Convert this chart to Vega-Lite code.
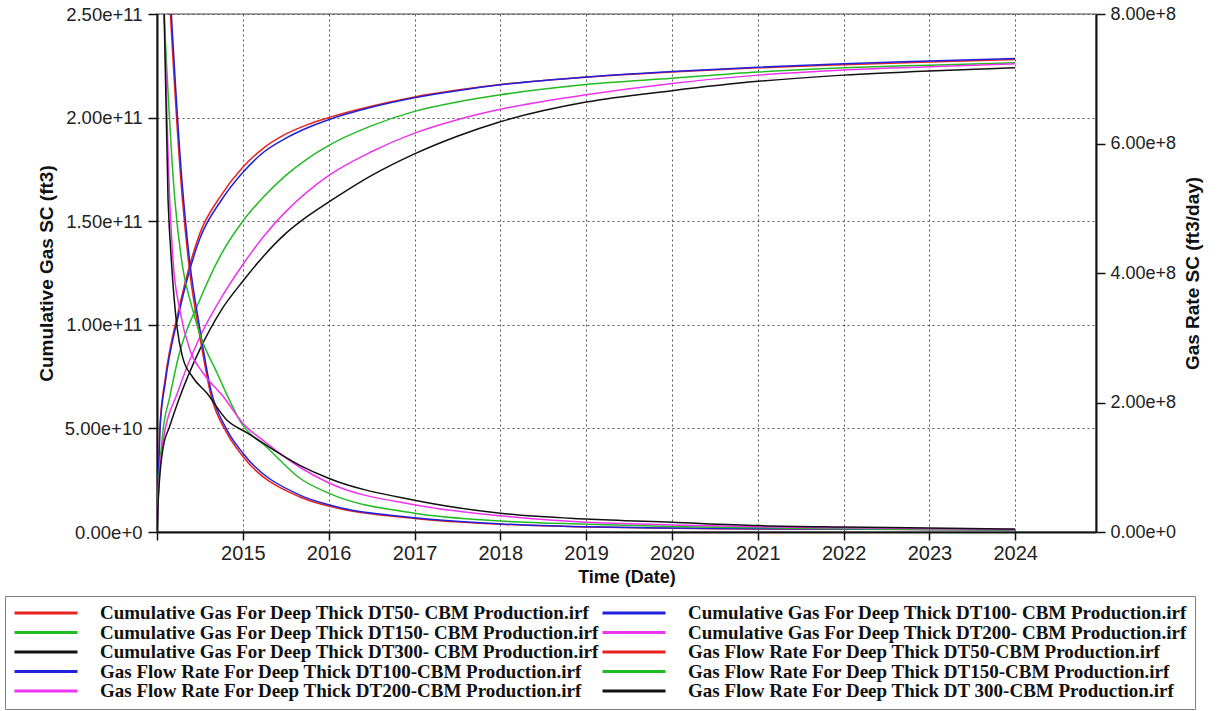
{
  "$schema": "https://vega.github.io/schema/vega-lite/v6.json",
  "width": 939,
  "height": 518,
  "autosize": {"type": "none"},
  "padding": {"left": 157, "top": 14, "right": 127, "bottom": 179},
  "background": "white",
  "config": {
    "view": {"stroke": "#888888", "strokeWidth": 1.5},
    "font": "Liberation Sans",
    "axis": {"labelFont": "Liberation Sans", "titleFont": "Liberation Sans", "labelColor": "#222", "titleColor": "#111", "domainColor": "#111", "domainWidth": 2, "tickColor": "#111", "tickWidth": 1.5}
  },
  "datasets": {
    "cum": [
      {"series": "Cumulative Gas For Deep Thick DT50- CBM Production.irf", "date": "2014-01-01", "value": 0},
      {"series": "Cumulative Gas For Deep Thick DT50- CBM Production.irf", "date": "2014-01-05", "value": 1.8e10},
      {"series": "Cumulative Gas For Deep Thick DT50- CBM Production.irf", "date": "2014-01-14", "value": 5.2e10},
      {"series": "Cumulative Gas For Deep Thick DT50- CBM Production.irf", "date": "2014-02-05", "value": 7.4e10},
      {"series": "Cumulative Gas For Deep Thick DT50- CBM Production.irf", "date": "2014-04-01", "value": 1.06e11},
      {"series": "Cumulative Gas For Deep Thick DT50- CBM Production.irf", "date": "2014-07-02", "value": 1.44e11},
      {"series": "Cumulative Gas For Deep Thick DT50- CBM Production.irf", "date": "2014-10-01", "value": 1.625e11},
      {"series": "Cumulative Gas For Deep Thick DT50- CBM Production.irf", "date": "2015-01-01", "value": 1.76e11},
      {"series": "Cumulative Gas For Deep Thick DT50- CBM Production.irf", "date": "2015-04-02", "value": 1.855e11},
      {"series": "Cumulative Gas For Deep Thick DT50- CBM Production.irf", "date": "2015-07-02", "value": 1.92e11},
      {"series": "Cumulative Gas For Deep Thick DT50- CBM Production.irf", "date": "2015-10-01", "value": 1.965e11},
      {"series": "Cumulative Gas For Deep Thick DT50- CBM Production.irf", "date": "2016-01-01", "value": 2.0e11},
      {"series": "Cumulative Gas For Deep Thick DT50- CBM Production.irf", "date": "2016-07-01", "value": 2.055e11},
      {"series": "Cumulative Gas For Deep Thick DT50- CBM Production.irf", "date": "2017-01-01", "value": 2.1e11},
      {"series": "Cumulative Gas For Deep Thick DT50- CBM Production.irf", "date": "2017-07-02", "value": 2.133e11},
      {"series": "Cumulative Gas For Deep Thick DT50- CBM Production.irf", "date": "2018-01-01", "value": 2.16e11},
      {"series": "Cumulative Gas For Deep Thick DT50- CBM Production.irf", "date": "2019-01-01", "value": 2.195e11},
      {"series": "Cumulative Gas For Deep Thick DT50- CBM Production.irf", "date": "2020-01-01", "value": 2.22e11},
      {"series": "Cumulative Gas For Deep Thick DT50- CBM Production.irf", "date": "2021-01-01", "value": 2.24e11},
      {"series": "Cumulative Gas For Deep Thick DT50- CBM Production.irf", "date": "2022-01-01", "value": 2.255e11},
      {"series": "Cumulative Gas For Deep Thick DT50- CBM Production.irf", "date": "2023-01-01", "value": 2.268e11},
      {"series": "Cumulative Gas For Deep Thick DT50- CBM Production.irf", "date": "2024-01-01", "value": 2.28e11},

      {"series": "Cumulative Gas For Deep Thick DT100- CBM Production.irf", "date": "2014-01-01", "value": 0},
      {"series": "Cumulative Gas For Deep Thick DT100- CBM Production.irf", "date": "2014-01-05", "value": 1.7e10},
      {"series": "Cumulative Gas For Deep Thick DT100- CBM Production.irf", "date": "2014-01-14", "value": 5.0e10},
      {"series": "Cumulative Gas For Deep Thick DT100- CBM Production.irf", "date": "2014-02-05", "value": 7.2e10},
      {"series": "Cumulative Gas For Deep Thick DT100- CBM Production.irf", "date": "2014-04-01", "value": 1.04e11},
      {"series": "Cumulative Gas For Deep Thick DT100- CBM Production.irf", "date": "2014-07-02", "value": 1.415e11},
      {"series": "Cumulative Gas For Deep Thick DT100- CBM Production.irf", "date": "2014-10-01", "value": 1.6e11},
      {"series": "Cumulative Gas For Deep Thick DT100- CBM Production.irf", "date": "2015-01-01", "value": 1.735e11},
      {"series": "Cumulative Gas For Deep Thick DT100- CBM Production.irf", "date": "2015-04-02", "value": 1.835e11},
      {"series": "Cumulative Gas For Deep Thick DT100- CBM Production.irf", "date": "2015-07-02", "value": 1.9e11},
      {"series": "Cumulative Gas For Deep Thick DT100- CBM Production.irf", "date": "2015-10-01", "value": 1.95e11},
      {"series": "Cumulative Gas For Deep Thick DT100- CBM Production.irf", "date": "2016-01-01", "value": 1.99e11},
      {"series": "Cumulative Gas For Deep Thick DT100- CBM Production.irf", "date": "2016-07-01", "value": 2.05e11},
      {"series": "Cumulative Gas For Deep Thick DT100- CBM Production.irf", "date": "2017-01-01", "value": 2.096e11},
      {"series": "Cumulative Gas For Deep Thick DT100- CBM Production.irf", "date": "2017-07-02", "value": 2.13e11},
      {"series": "Cumulative Gas For Deep Thick DT100- CBM Production.irf", "date": "2018-01-01", "value": 2.158e11},
      {"series": "Cumulative Gas For Deep Thick DT100- CBM Production.irf", "date": "2019-01-01", "value": 2.196e11},
      {"series": "Cumulative Gas For Deep Thick DT100- CBM Production.irf", "date": "2020-01-01", "value": 2.222e11},
      {"series": "Cumulative Gas For Deep Thick DT100- CBM Production.irf", "date": "2021-01-01", "value": 2.243e11},
      {"series": "Cumulative Gas For Deep Thick DT100- CBM Production.irf", "date": "2022-01-01", "value": 2.26e11},
      {"series": "Cumulative Gas For Deep Thick DT100- CBM Production.irf", "date": "2023-01-01", "value": 2.273e11},
      {"series": "Cumulative Gas For Deep Thick DT100- CBM Production.irf", "date": "2024-01-01", "value": 2.285e11},

      {"series": "Cumulative Gas For Deep Thick DT150- CBM Production.irf", "date": "2014-01-01", "value": 0},
      {"series": "Cumulative Gas For Deep Thick DT150- CBM Production.irf", "date": "2014-01-05", "value": 1.5e10},
      {"series": "Cumulative Gas For Deep Thick DT150- CBM Production.irf", "date": "2014-01-26", "value": 4.8e10},
      {"series": "Cumulative Gas For Deep Thick DT150- CBM Production.irf", "date": "2014-02-24", "value": 6.5e10},
      {"series": "Cumulative Gas For Deep Thick DT150- CBM Production.irf", "date": "2014-04-01", "value": 8.4e10},
      {"series": "Cumulative Gas For Deep Thick DT150- CBM Production.irf", "date": "2014-07-02", "value": 1.12e11},
      {"series": "Cumulative Gas For Deep Thick DT150- CBM Production.irf", "date": "2014-10-01", "value": 1.34e11},
      {"series": "Cumulative Gas For Deep Thick DT150- CBM Production.irf", "date": "2015-01-01", "value": 1.5e11},
      {"series": "Cumulative Gas For Deep Thick DT150- CBM Production.irf", "date": "2015-04-02", "value": 1.62e11},
      {"series": "Cumulative Gas For Deep Thick DT150- CBM Production.irf", "date": "2015-07-02", "value": 1.72e11},
      {"series": "Cumulative Gas For Deep Thick DT150- CBM Production.irf", "date": "2015-10-01", "value": 1.8e11},
      {"series": "Cumulative Gas For Deep Thick DT150- CBM Production.irf", "date": "2016-01-01", "value": 1.865e11},
      {"series": "Cumulative Gas For Deep Thick DT150- CBM Production.irf", "date": "2016-07-01", "value": 1.96e11},
      {"series": "Cumulative Gas For Deep Thick DT150- CBM Production.irf", "date": "2017-01-01", "value": 2.03e11},
      {"series": "Cumulative Gas For Deep Thick DT150- CBM Production.irf", "date": "2017-07-02", "value": 2.075e11},
      {"series": "Cumulative Gas For Deep Thick DT150- CBM Production.irf", "date": "2018-01-01", "value": 2.11e11},
      {"series": "Cumulative Gas For Deep Thick DT150- CBM Production.irf", "date": "2019-01-01", "value": 2.16e11},
      {"series": "Cumulative Gas For Deep Thick DT150- CBM Production.irf", "date": "2020-01-01", "value": 2.19e11},
      {"series": "Cumulative Gas For Deep Thick DT150- CBM Production.irf", "date": "2021-01-01", "value": 2.22e11},
      {"series": "Cumulative Gas For Deep Thick DT150- CBM Production.irf", "date": "2022-01-01", "value": 2.24e11},
      {"series": "Cumulative Gas For Deep Thick DT150- CBM Production.irf", "date": "2023-01-01", "value": 2.253e11},
      {"series": "Cumulative Gas For Deep Thick DT150- CBM Production.irf", "date": "2024-01-01", "value": 2.265e11},

      {"series": "Cumulative Gas For Deep Thick DT200- CBM Production.irf", "date": "2014-01-01", "value": 0},
      {"series": "Cumulative Gas For Deep Thick DT200- CBM Production.irf", "date": "2014-01-05", "value": 1.3e10},
      {"series": "Cumulative Gas For Deep Thick DT200- CBM Production.irf", "date": "2014-01-26", "value": 4.3e10},
      {"series": "Cumulative Gas For Deep Thick DT200- CBM Production.irf", "date": "2014-04-01", "value": 6.8e10},
      {"series": "Cumulative Gas For Deep Thick DT200- CBM Production.irf", "date": "2014-07-02", "value": 9.4e10},
      {"series": "Cumulative Gas For Deep Thick DT200- CBM Production.irf", "date": "2014-10-01", "value": 1.13e11},
      {"series": "Cumulative Gas For Deep Thick DT200- CBM Production.irf", "date": "2015-01-01", "value": 1.29e11},
      {"series": "Cumulative Gas For Deep Thick DT200- CBM Production.irf", "date": "2015-04-02", "value": 1.43e11},
      {"series": "Cumulative Gas For Deep Thick DT200- CBM Production.irf", "date": "2015-07-02", "value": 1.545e11},
      {"series": "Cumulative Gas For Deep Thick DT200- CBM Production.irf", "date": "2015-10-01", "value": 1.64e11},
      {"series": "Cumulative Gas For Deep Thick DT200- CBM Production.irf", "date": "2016-01-01", "value": 1.72e11},
      {"series": "Cumulative Gas For Deep Thick DT200- CBM Production.irf", "date": "2016-07-01", "value": 1.835e11},
      {"series": "Cumulative Gas For Deep Thick DT200- CBM Production.irf", "date": "2017-01-01", "value": 1.925e11},
      {"series": "Cumulative Gas For Deep Thick DT200- CBM Production.irf", "date": "2017-07-02", "value": 1.99e11},
      {"series": "Cumulative Gas For Deep Thick DT200- CBM Production.irf", "date": "2018-01-01", "value": 2.04e11},
      {"series": "Cumulative Gas For Deep Thick DT200- CBM Production.irf", "date": "2019-01-01", "value": 2.11e11},
      {"series": "Cumulative Gas For Deep Thick DT200- CBM Production.irf", "date": "2020-01-01", "value": 2.165e11},
      {"series": "Cumulative Gas For Deep Thick DT200- CBM Production.irf", "date": "2021-01-01", "value": 2.205e11},
      {"series": "Cumulative Gas For Deep Thick DT200- CBM Production.irf", "date": "2022-01-01", "value": 2.23e11},
      {"series": "Cumulative Gas For Deep Thick DT200- CBM Production.irf", "date": "2023-01-01", "value": 2.245e11},
      {"series": "Cumulative Gas For Deep Thick DT200- CBM Production.irf", "date": "2024-01-01", "value": 2.26e11},

      {"series": "Cumulative Gas For Deep Thick DT300- CBM Production.irf", "date": "2014-01-01", "value": 0},
      {"series": "Cumulative Gas For Deep Thick DT300- CBM Production.irf", "date": "2014-01-05", "value": 1.2e10},
      {"series": "Cumulative Gas For Deep Thick DT300- CBM Production.irf", "date": "2014-01-26", "value": 4.0e10},
      {"series": "Cumulative Gas For Deep Thick DT300- CBM Production.irf", "date": "2014-02-24", "value": 5.1e10},
      {"series": "Cumulative Gas For Deep Thick DT300- CBM Production.irf", "date": "2014-04-01", "value": 6.3e10},
      {"series": "Cumulative Gas For Deep Thick DT300- CBM Production.irf", "date": "2014-07-02", "value": 8.8e10},
      {"series": "Cumulative Gas For Deep Thick DT300- CBM Production.irf", "date": "2014-10-01", "value": 1.07e11},
      {"series": "Cumulative Gas For Deep Thick DT300- CBM Production.irf", "date": "2015-01-01", "value": 1.21e11},
      {"series": "Cumulative Gas For Deep Thick DT300- CBM Production.irf", "date": "2015-04-02", "value": 1.335e11},
      {"series": "Cumulative Gas For Deep Thick DT300- CBM Production.irf", "date": "2015-07-02", "value": 1.44e11},
      {"series": "Cumulative Gas For Deep Thick DT300- CBM Production.irf", "date": "2015-10-01", "value": 1.522e11},
      {"series": "Cumulative Gas For Deep Thick DT300- CBM Production.irf", "date": "2016-01-01", "value": 1.592e11},
      {"series": "Cumulative Gas For Deep Thick DT300- CBM Production.irf", "date": "2016-07-01", "value": 1.72e11},
      {"series": "Cumulative Gas For Deep Thick DT300- CBM Production.irf", "date": "2017-01-01", "value": 1.825e11},
      {"series": "Cumulative Gas For Deep Thick DT300- CBM Production.irf", "date": "2017-07-02", "value": 1.91e11},
      {"series": "Cumulative Gas For Deep Thick DT300- CBM Production.irf", "date": "2018-01-01", "value": 1.98e11},
      {"series": "Cumulative Gas For Deep Thick DT300- CBM Production.irf", "date": "2019-01-01", "value": 2.075e11},
      {"series": "Cumulative Gas For Deep Thick DT300- CBM Production.irf", "date": "2020-01-01", "value": 2.13e11},
      {"series": "Cumulative Gas For Deep Thick DT300- CBM Production.irf", "date": "2021-01-01", "value": 2.175e11},
      {"series": "Cumulative Gas For Deep Thick DT300- CBM Production.irf", "date": "2022-01-01", "value": 2.205e11},
      {"series": "Cumulative Gas For Deep Thick DT300- CBM Production.irf", "date": "2023-01-01", "value": 2.225e11},
      {"series": "Cumulative Gas For Deep Thick DT300- CBM Production.irf", "date": "2024-01-01", "value": 2.24e11}
    ],
    "rate": [
      {"series": "Gas Flow Rate For Deep Thick DT50-CBM Production.irf", "date": "2014-01-14", "value": 1.1e9},
      {"series": "Gas Flow Rate For Deep Thick DT50-CBM Production.irf", "date": "2014-04-20", "value": 5.1e8},
      {"series": "Gas Flow Rate For Deep Thick DT50-CBM Production.irf", "date": "2014-05-21", "value": 4.0e8},
      {"series": "Gas Flow Rate For Deep Thick DT50-CBM Production.irf", "date": "2014-07-01", "value": 3.05e8},
      {"series": "Gas Flow Rate For Deep Thick DT50-CBM Production.irf", "date": "2014-08-18", "value": 2.12e8},
      {"series": "Gas Flow Rate For Deep Thick DT50-CBM Production.irf", "date": "2014-10-25", "value": 1.53e8},
      {"series": "Gas Flow Rate For Deep Thick DT50-CBM Production.irf", "date": "2015-01-01", "value": 1.17e8},
      {"series": "Gas Flow Rate For Deep Thick DT50-CBM Production.irf", "date": "2015-09-01", "value": 5.4e7},
      {"series": "Gas Flow Rate For Deep Thick DT50-CBM Production.irf", "date": "2016-01-01", "value": 4.0e7},
      {"series": "Gas Flow Rate For Deep Thick DT50-CBM Production.irf", "date": "2017-01-01", "value": 2.1e7},
      {"series": "Gas Flow Rate For Deep Thick DT50-CBM Production.irf", "date": "2018-01-01", "value": 1.2e7},
      {"series": "Gas Flow Rate For Deep Thick DT50-CBM Production.irf", "date": "2019-01-01", "value": 7.7e6},
      {"series": "Gas Flow Rate For Deep Thick DT50-CBM Production.irf", "date": "2020-01-01", "value": 5.8e6},
      {"series": "Gas Flow Rate For Deep Thick DT50-CBM Production.irf", "date": "2021-01-01", "value": 4.8e6},
      {"series": "Gas Flow Rate For Deep Thick DT50-CBM Production.irf", "date": "2022-01-01", "value": 4.3e6},
      {"series": "Gas Flow Rate For Deep Thick DT50-CBM Production.irf", "date": "2023-01-01", "value": 3.8e6},
      {"series": "Gas Flow Rate For Deep Thick DT50-CBM Production.irf", "date": "2024-01-01", "value": 3.4e6},

      {"series": "Gas Flow Rate For Deep Thick DT100-CBM Production.irf", "date": "2014-01-14", "value": 1.13e9},
      {"series": "Gas Flow Rate For Deep Thick DT100-CBM Production.irf", "date": "2014-04-20", "value": 5.3e8},
      {"series": "Gas Flow Rate For Deep Thick DT100-CBM Production.irf", "date": "2014-05-21", "value": 4.15e8},
      {"series": "Gas Flow Rate For Deep Thick DT100-CBM Production.irf", "date": "2014-07-01", "value": 3.17e8},
      {"series": "Gas Flow Rate For Deep Thick DT100-CBM Production.irf", "date": "2014-08-18", "value": 2.2e8},
      {"series": "Gas Flow Rate For Deep Thick DT100-CBM Production.irf", "date": "2014-10-25", "value": 1.58e8},
      {"series": "Gas Flow Rate For Deep Thick DT100-CBM Production.irf", "date": "2015-01-01", "value": 1.22e8},
      {"series": "Gas Flow Rate For Deep Thick DT100-CBM Production.irf", "date": "2015-09-01", "value": 5.7e7},
      {"series": "Gas Flow Rate For Deep Thick DT100-CBM Production.irf", "date": "2016-01-01", "value": 4.2e7},
      {"series": "Gas Flow Rate For Deep Thick DT100-CBM Production.irf", "date": "2017-01-01", "value": 2.2e7},
      {"series": "Gas Flow Rate For Deep Thick DT100-CBM Production.irf", "date": "2018-01-01", "value": 1.25e7},
      {"series": "Gas Flow Rate For Deep Thick DT100-CBM Production.irf", "date": "2019-01-01", "value": 8e6},
      {"series": "Gas Flow Rate For Deep Thick DT100-CBM Production.irf", "date": "2020-01-01", "value": 6e6},
      {"series": "Gas Flow Rate For Deep Thick DT100-CBM Production.irf", "date": "2021-01-01", "value": 5e6},
      {"series": "Gas Flow Rate For Deep Thick DT100-CBM Production.irf", "date": "2022-01-01", "value": 4.5e6},
      {"series": "Gas Flow Rate For Deep Thick DT100-CBM Production.irf", "date": "2023-01-01", "value": 4e6},
      {"series": "Gas Flow Rate For Deep Thick DT100-CBM Production.irf", "date": "2024-01-01", "value": 3.5e6},

      {"series": "Gas Flow Rate For Deep Thick DT150-CBM Production.irf", "date": "2014-01-05", "value": 1.0e9},
      {"series": "Gas Flow Rate For Deep Thick DT150-CBM Production.irf", "date": "2014-03-18", "value": 5.13e8},
      {"series": "Gas Flow Rate For Deep Thick DT150-CBM Production.irf", "date": "2014-04-20", "value": 4.09e8},
      {"series": "Gas Flow Rate For Deep Thick DT150-CBM Production.irf", "date": "2014-05-30", "value": 3.47e8},
      {"series": "Gas Flow Rate For Deep Thick DT150-CBM Production.irf", "date": "2014-07-01", "value": 3.07e8},
      {"series": "Gas Flow Rate For Deep Thick DT150-CBM Production.irf", "date": "2014-09-13", "value": 2.46e8},
      {"series": "Gas Flow Rate For Deep Thick DT150-CBM Production.irf", "date": "2015-01-01", "value": 1.65e8},
      {"series": "Gas Flow Rate For Deep Thick DT150-CBM Production.irf", "date": "2015-04-13", "value": 1.31e8},
      {"series": "Gas Flow Rate For Deep Thick DT150-CBM Production.irf", "date": "2015-09-01", "value": 8.3e7},
      {"series": "Gas Flow Rate For Deep Thick DT150-CBM Production.irf", "date": "2016-01-01", "value": 6.0e7},
      {"series": "Gas Flow Rate For Deep Thick DT150-CBM Production.irf", "date": "2017-01-01", "value": 2.9e7},
      {"series": "Gas Flow Rate For Deep Thick DT150-CBM Production.irf", "date": "2018-01-01", "value": 1.7e7},
      {"series": "Gas Flow Rate For Deep Thick DT150-CBM Production.irf", "date": "2019-01-01", "value": 1.2e7},
      {"series": "Gas Flow Rate For Deep Thick DT150-CBM Production.irf", "date": "2020-01-01", "value": 8.5e6},
      {"series": "Gas Flow Rate For Deep Thick DT150-CBM Production.irf", "date": "2021-01-01", "value": 6.5e6},
      {"series": "Gas Flow Rate For Deep Thick DT150-CBM Production.irf", "date": "2022-01-01", "value": 5e6},
      {"series": "Gas Flow Rate For Deep Thick DT150-CBM Production.irf", "date": "2023-01-01", "value": 4e6},
      {"series": "Gas Flow Rate For Deep Thick DT150-CBM Production.irf", "date": "2024-01-01", "value": 3.5e6},

      {"series": "Gas Flow Rate For Deep Thick DT200-CBM Production.irf", "date": "2014-01-14", "value": 1.1e9},
      {"series": "Gas Flow Rate For Deep Thick DT200-CBM Production.irf", "date": "2014-02-24", "value": 5.13e8},
      {"series": "Gas Flow Rate For Deep Thick DT200-CBM Production.irf", "date": "2014-03-10", "value": 4.2e8},
      {"series": "Gas Flow Rate For Deep Thick DT200-CBM Production.irf", "date": "2014-04-08", "value": 3.43e8},
      {"series": "Gas Flow Rate For Deep Thick DT200-CBM Production.irf", "date": "2014-05-21", "value": 2.81e8},
      {"series": "Gas Flow Rate For Deep Thick DT200-CBM Production.irf", "date": "2014-07-15", "value": 2.46e8},
      {"series": "Gas Flow Rate For Deep Thick DT200-CBM Production.irf", "date": "2014-10-08", "value": 2.1e8},
      {"series": "Gas Flow Rate For Deep Thick DT200-CBM Production.irf", "date": "2015-01-01", "value": 1.68e8},
      {"series": "Gas Flow Rate For Deep Thick DT200-CBM Production.irf", "date": "2015-04-13", "value": 1.37e8},
      {"series": "Gas Flow Rate For Deep Thick DT200-CBM Production.irf", "date": "2015-09-01", "value": 1.0e8},
      {"series": "Gas Flow Rate For Deep Thick DT200-CBM Production.irf", "date": "2016-01-01", "value": 7.6e7},
      {"series": "Gas Flow Rate For Deep Thick DT200-CBM Production.irf", "date": "2017-01-01", "value": 4.2e7},
      {"series": "Gas Flow Rate For Deep Thick DT200-CBM Production.irf", "date": "2018-01-01", "value": 2.5e7},
      {"series": "Gas Flow Rate For Deep Thick DT200-CBM Production.irf", "date": "2019-01-01", "value": 1.5e7},
      {"series": "Gas Flow Rate For Deep Thick DT200-CBM Production.irf", "date": "2020-01-01", "value": 1.1e7},
      {"series": "Gas Flow Rate For Deep Thick DT200-CBM Production.irf", "date": "2021-01-01", "value": 8e6},
      {"series": "Gas Flow Rate For Deep Thick DT200-CBM Production.irf", "date": "2022-01-01", "value": 6.5e6},
      {"series": "Gas Flow Rate For Deep Thick DT200-CBM Production.irf", "date": "2023-01-01", "value": 5e6},
      {"series": "Gas Flow Rate For Deep Thick DT200-CBM Production.irf", "date": "2024-01-01", "value": 4e6},

      {"series": "Gas Flow Rate For Deep Thick DT 300-CBM Production.irf", "date": "2014-01-14", "value": 1.1e9},
      {"series": "Gas Flow Rate For Deep Thick DT 300-CBM Production.irf", "date": "2014-02-17", "value": 5.13e8},
      {"series": "Gas Flow Rate For Deep Thick DT 300-CBM Production.irf", "date": "2014-03-05", "value": 4.09e8},
      {"series": "Gas Flow Rate For Deep Thick DT 300-CBM Production.irf", "date": "2014-03-27", "value": 3.17e8},
      {"series": "Gas Flow Rate For Deep Thick DT 300-CBM Production.irf", "date": "2014-04-20", "value": 2.7e8},
      {"series": "Gas Flow Rate For Deep Thick DT 300-CBM Production.irf", "date": "2014-06-02", "value": 2.39e8},
      {"series": "Gas Flow Rate For Deep Thick DT 300-CBM Production.irf", "date": "2014-07-31", "value": 2.15e8},
      {"series": "Gas Flow Rate For Deep Thick DT 300-CBM Production.irf", "date": "2014-10-25", "value": 1.73e8},
      {"series": "Gas Flow Rate For Deep Thick DT 300-CBM Production.irf", "date": "2015-01-20", "value": 1.53e8},
      {"series": "Gas Flow Rate For Deep Thick DT 300-CBM Production.irf", "date": "2015-09-01", "value": 1.03e8},
      {"series": "Gas Flow Rate For Deep Thick DT 300-CBM Production.irf", "date": "2016-01-01", "value": 8.3e7},
      {"series": "Gas Flow Rate For Deep Thick DT 300-CBM Production.irf", "date": "2017-01-01", "value": 4.9e7},
      {"series": "Gas Flow Rate For Deep Thick DT 300-CBM Production.irf", "date": "2018-01-01", "value": 2.9e7},
      {"series": "Gas Flow Rate For Deep Thick DT 300-CBM Production.irf", "date": "2019-01-01", "value": 2.0e7},
      {"series": "Gas Flow Rate For Deep Thick DT 300-CBM Production.irf", "date": "2020-01-01", "value": 1.5e7},
      {"series": "Gas Flow Rate For Deep Thick DT 300-CBM Production.irf", "date": "2021-01-01", "value": 1.0e7},
      {"series": "Gas Flow Rate For Deep Thick DT 300-CBM Production.irf", "date": "2022-01-01", "value": 7.7e6},
      {"series": "Gas Flow Rate For Deep Thick DT 300-CBM Production.irf", "date": "2023-01-01", "value": 6e6},
      {"series": "Gas Flow Rate For Deep Thick DT 300-CBM Production.irf", "date": "2024-01-01", "value": 4.6e6}
    ]
  },
  "encoding": {
    "x": {
      "field": "date", "type": "temporal",
      "scale": {"domain": ["2014-01-01", "2024-12-10"], "nice": false},
      "axis": {
        "title": "Time (Date)", "titleFontSize": 18, "titleFontWeight": "bold", "titlePadding": 5,
        "tickCount": {"interval": "year", "step": 1}, "format": "%Y",
        "labelExpr": "year(datum.value) === 2014 ? '' : datum.label",
        "labelFontSize": 20, "labelPadding": 3, "tickSize": 8, "labelFlush": false,
        "grid": true, "gridDash": [2, 3], "gridColor": "#555", "gridWidth": 1
      }
    },
    "color": {
      "field": "series", "type": "nominal",
      "scale": {
        "domain": [
          "Cumulative Gas For Deep Thick DT50- CBM Production.irf",
          "Cumulative Gas For Deep Thick DT100- CBM Production.irf",
          "Cumulative Gas For Deep Thick DT150- CBM Production.irf",
          "Cumulative Gas For Deep Thick DT200- CBM Production.irf",
          "Cumulative Gas For Deep Thick DT300- CBM Production.irf",
          "Gas Flow Rate For Deep Thick DT50-CBM Production.irf",
          "Gas Flow Rate For Deep Thick DT100-CBM Production.irf",
          "Gas Flow Rate For Deep Thick DT150-CBM Production.irf",
          "Gas Flow Rate For Deep Thick DT200-CBM Production.irf",
          "Gas Flow Rate For Deep Thick DT 300-CBM Production.irf"
        ],
        "range": ["#e8221e", "#2020dd", "#22bb22", "#ee33ee", "#111111", "#e8221e", "#2020dd", "#22bb22", "#ee33ee", "#111111"]
      },
      "legend": {
        "title": null, "orient": "none", "legendX": -152, "legendY": 582,
        "direction": "horizontal", "columns": 2, "columnPadding": 2, "rowPadding": 0.5,
        "clipHeight": 18,
        "symbolType": "stroke", "symbolSize": 3969, "symbolStrokeWidth": 3,
        "labelFont": "Liberation Serif", "labelFontWeight": "bold", "labelFontSize": 19, "labelColor": "#111",
        "labelOffset": 21, "labelLimit": 700,
        "padding": 8, "strokeColor": "#808080", "fillColor": "white"
      }
    }
  },
  "layer": [
    {
      "data": {"name": "cum"},
      "mark": {"type": "line", "strokeWidth": 1.5, "clip": true, "interpolate": "monotone"},
      "encoding": {
        "y": {
          "field": "value", "type": "quantitative",
          "scale": {"domain": [0, 2.5e11], "nice": false},
          "axis": {
            "orient": "left", "values": [0, 5e10, 1e11, 1.5e11, 2e11, 2.5e11], "format": ".2e",
            "title": "Cumulative Gas SC (ft3)", "titleFontSize": 19, "titleFontWeight": "bold", "titlePadding": 8,
            "labelFontSize": 18.5, "labelPadding": 6, "tickSize": 9,
            "grid": true, "gridDash": [2, 3], "gridColor": "#555", "gridWidth": 1
          }
        }
      }
    },
    {
      "data": {"name": "rate"},
      "mark": {"type": "line", "strokeWidth": 1.5, "clip": true, "interpolate": "monotone"},
      "encoding": {
        "y": {
          "field": "value", "type": "quantitative",
          "scale": {"domain": [0, 8e8], "nice": false},
          "axis": {
            "orient": "right", "values": [0, 2e8, 4e8, 6e8, 8e8], "format": ".2e",
            "title": "Gas Rate SC (ft3/day)", "titleFontSize": 19, "titleFontWeight": "bold", "titlePadding": 27, "titleAngle": 270,
            "labelFontSize": 18, "labelPadding": 5, "tickSize": 9, "grid": false
          }
        }
      }
    }
  ],
  "resolve": {"scale": {"y": "independent"}}
}
